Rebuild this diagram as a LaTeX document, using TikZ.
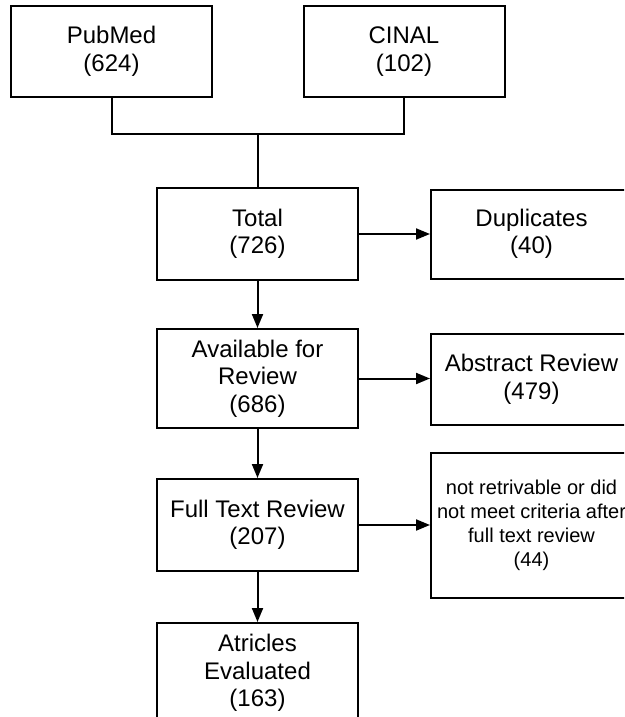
\documentclass[tikz,border=0pt]{standalone}
\usepackage{fontspec}
\setmainfont{Liberation Sans}
\usetikzlibrary{arrows.meta}
\begin{document}
\begin{tikzpicture}[x=1pt,y=-1pt,
  box/.style={draw=black, line width=2pt, rectangle, minimum width=201pt, align=center, inner sep=0pt,
    font=\fontsize{24}{27.5}\selectfont},
  smallbox/.style={box, font=\fontsize{20}{24}\selectfont},
  link/.style={draw=black, line width=2pt},
  arr/.style={link, -{Triangle[length=14pt,width=11pt]}}]
\useasboundingbox (0,0) rectangle (624,717);
\fill[white] (0,0) rectangle (624,717);
\clip (0,0) rectangle (624,717);

\node[box, minimum height=91pt] (pub) at (111.5,51.5) {PubMed\\(624)};
\node[box, minimum height=91pt] (cin) at (404,51.5) {CINAL\\(102)};
\node[box, minimum height=92pt] (tot) at (257.5,234) {Total\\(726)};
\node[box, minimum height=89pt] (dup) at (531.5,234) {Duplicates\\(40)};
\node[box, minimum height=99pt] (avl) at (257.5,378.5) {Available for\\Review\\(686)};
\node[box, minimum height=91pt] (abs) at (531.5,379.5) {Abstract Review\\(479)};
\node[box, minimum height=92pt] (ful) at (257.5,525) {Full Text Review\\(207)};
\node[smallbox, minimum height=145pt] (nrt) at (531.5,525.5) {not retrivable or did\\not meet criteria after\\full text review\\(44)};
\node[box, minimum height=100pt] (art) at (257.5,673) {Atricles\\Evaluated\\(163)};

\coordinate (j) at (257.5,134);
\draw[link] (pub.south) |- (j);
\draw[link] (cin.south) |- (j);
\draw[link] (j) -- (tot.north);

\draw[arr] (tot.east) -- (dup.west);
\draw[arr] (tot.south) -- (avl.north);
\draw[arr] (avl.east) -- (avl.east -| abs.west);
\draw[arr] (avl.south) -- (ful.north);
\draw[arr] (ful.east) -- (ful.east -| nrt.west);
\draw[arr] (ful.south) -- (art.north);
\end{tikzpicture}
\end{document}
